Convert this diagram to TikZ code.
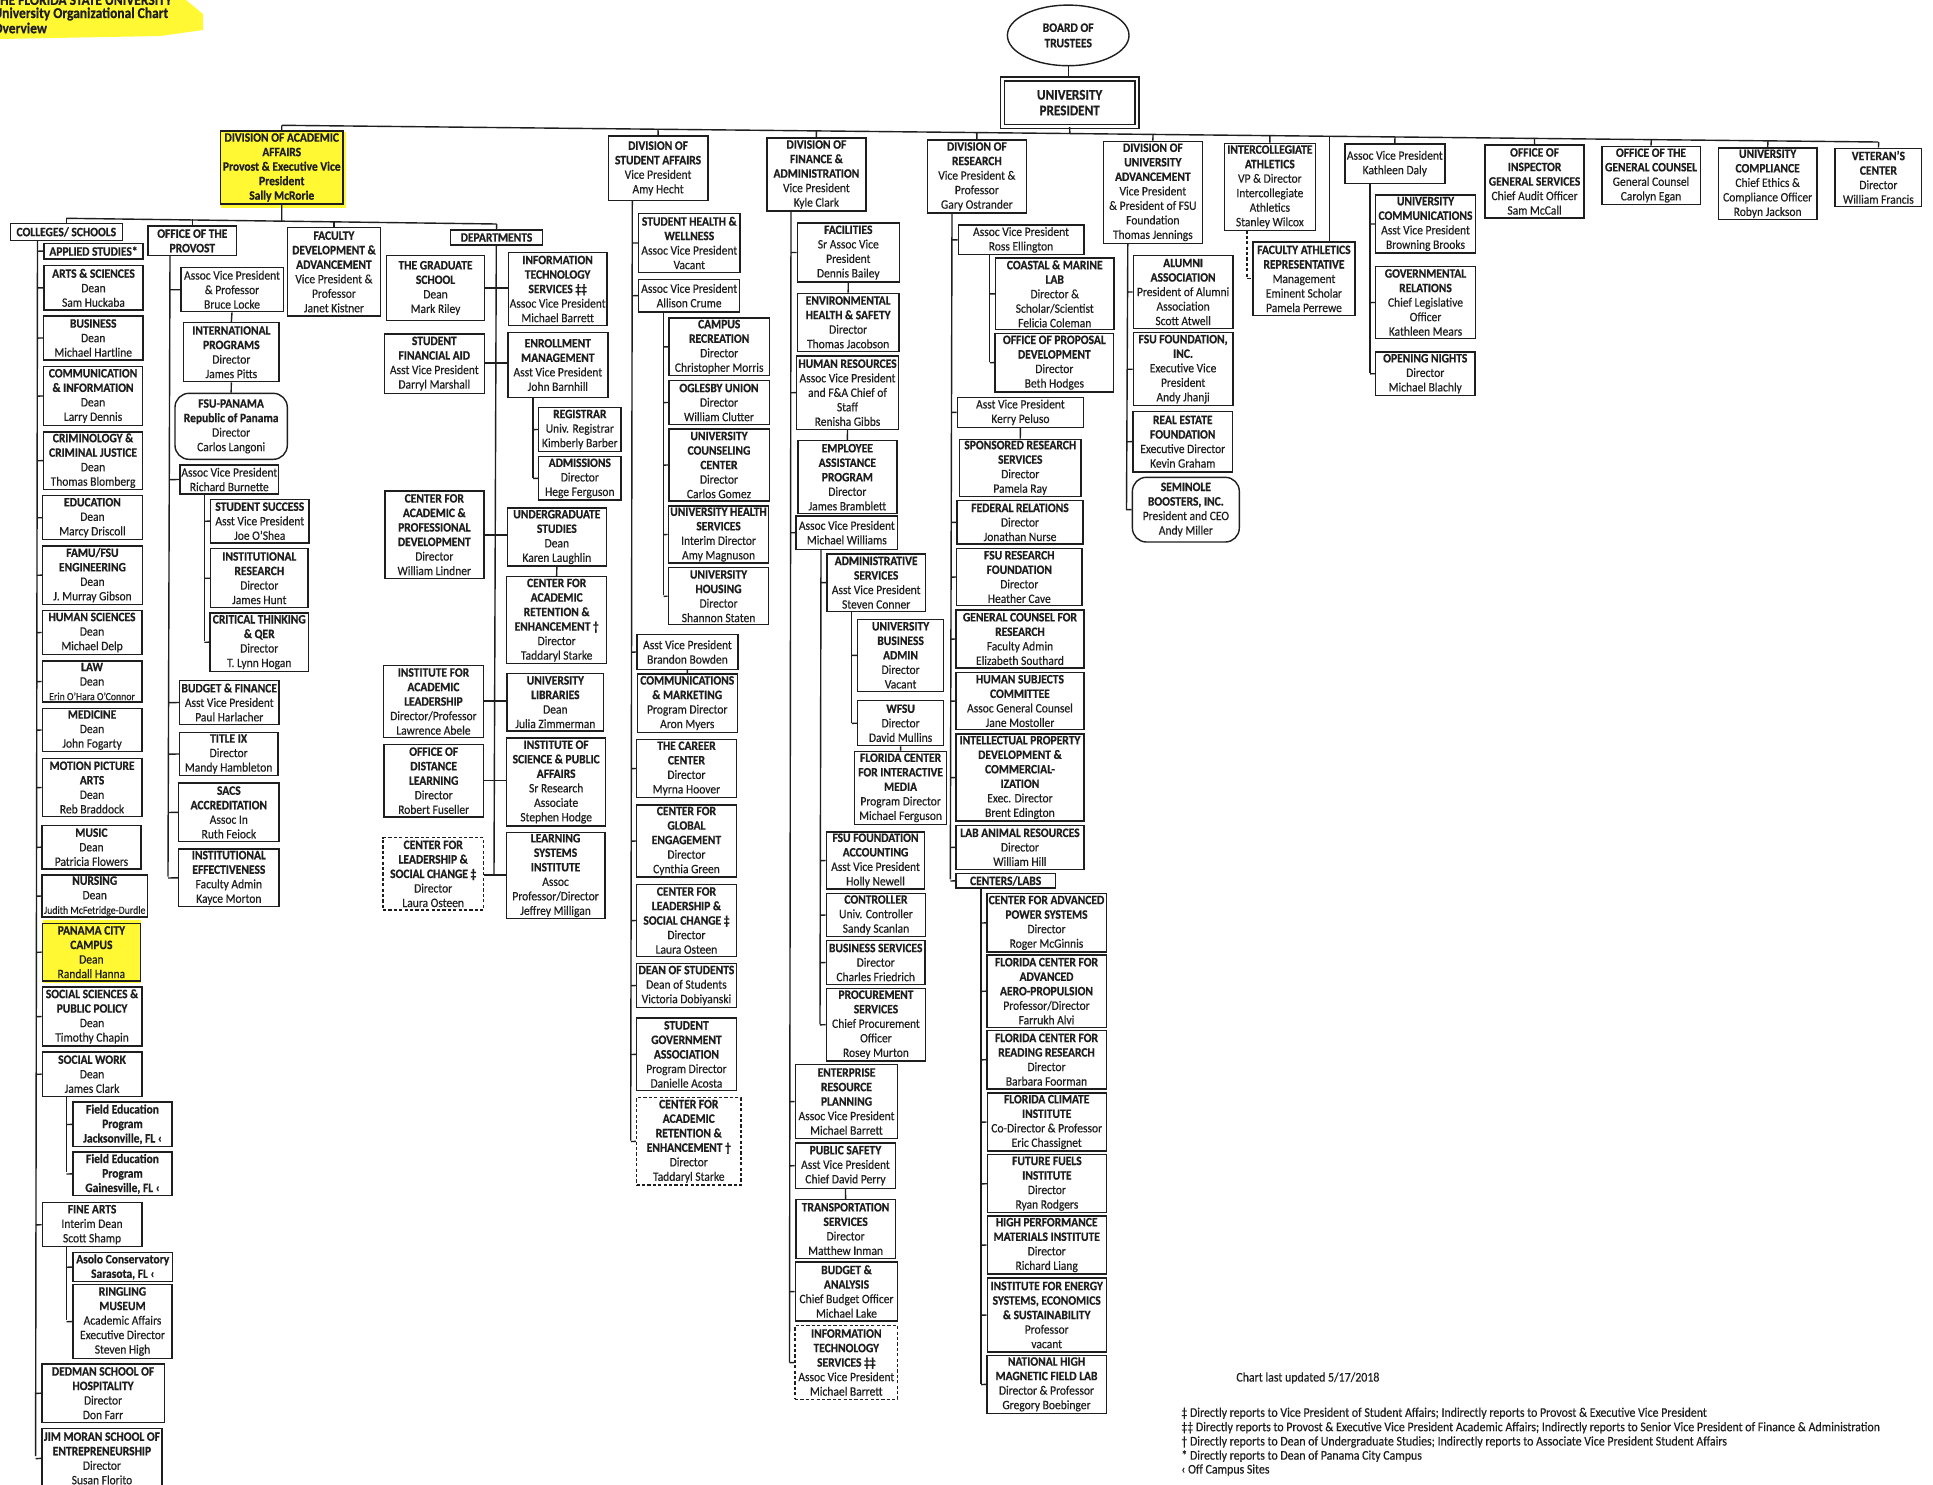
\documentclass[tikz,border=0pt]{standalone}
\usepackage{fontspec}
\setmainfont{Carlito}[FakeStretch=0.9,UprightFeatures={FakeBold=0.35},BoldFeatures={FakeBold=0.6}]
\usetikzlibrary{shapes.geometric}
\definecolor{ink}{HTML}{1E1E1E}
\definecolor{hi}{HTML}{FFF833}
\newcommand{\nrm}{\global\let\nrmoldnl\\\gdef\\{\nrmoldnl\mdseries}\mdseries}
\newcommand{\smalline}{\fontsize{5.45}{7.25}\selectfont}
\tikzset{
  x=0.5pt,y=-0.5pt,
  box/.style={draw=ink,line width=0.7pt,rectangle,inner sep=0pt,align=center,text=ink,font=\fontsize{6.4}{7.25}\selectfont\bfseries},
  plainbox/.style={box,font=\fontsize{6.4}{7.25}\selectfont},
  dashbox/.style={box,dashed,dash pattern=on 1.6pt off 1.1pt},
  roundbox/.style={box,rounded corners=7pt},
  wire/.style={draw=ink,line width=0.7pt},
  note/.style={inner sep=0pt,anchor=west,text=ink,font=\fontsize{6.6}{7.25}\selectfont},
  headnote/.style={note,font=\fontsize{7.5}{7.25}\selectfont\bfseries},
}
\newcommand{\B}[7][box]{\node[#1,minimum width={(#5-#3)*0.5pt},minimum height={(#6-#4)*0.5pt}] (#2) at ({(#3+#5)/2},{(#4+#6)/2}) {#7};}
% spine: from a to b, with stubs to the west side of listed boxes
\newcommand{\spine}[3]{\draw[wire] (#1) -- (#2);
  \foreach \q in {#3}{\draw[wire] (\q.west) -- (intersection cs:first line={(\q.west)--(\q.east)},second line={(#1)--(#2)});}}
\newcommand{\stem}[1]{\draw[wire] (#1.north) -- (intersection cs:first line={(#1.north)--(#1.south)},second line={(barL)--(barR)});}
\begin{document}
\begin{tikzpicture}
\useasboundingbox (0,0) rectangle (1933,1484);
\clip (0,0) rectangle (1933,1484);
\fill[white] (0,0) rectangle (1933,1484);
% highlights
\fill[hi] (0,0) -- (186,0) -- (203,14) -- (203,30) -- (160,36) -- (0,39) -- cycle;
\fill[hi] (221,132) rectangle (346,208);
\fill[hi] (43,920) rectangle (141,983);
\node[headnote] (h1) at (-7,0) {THE FLORIDA STATE UNIVERSITY};
\node[headnote] (h2) at (-7,14) {University Organizational Chart};
\node[headnote] (h3) at (-7,28) {Overview};

% top
\node[draw=ink,line width=0.7pt,ellipse,inner sep=0pt,minimum width=60.8pt,minimum height=30.3pt,align=center,text=ink,font=\fontsize{6.45}{7.7}\selectfont\bfseries] (bot) at (1068.2,35.4) {BOARD OF\\TRUSTEES};
\B[box,double=white,double distance=1.2pt,font=\fontsize{7.3}{7.85}\selectfont\bfseries]{pres}{1002.3}{79}{1137}{126.3}{UNIVERSITY\\PRESIDENT}
\draw[wire] (bot.south) -- (bot.south |- pres.north);
\coordinate (barL) at (282,125.3);
\coordinate (barR) at (1878,142);
\draw[wire] (barL) -- (barR);
\draw[wire] (pres.south) -- (intersection cs:first line={(pres.north)--(pres.south)},second line={(barL)--(barR)});

% academic affairs
\B{acad}{220.6}{131}{342.9}{204}{DIVISION OF ACADEMIC\\AFFAIRS\\Provost \& Executive Vice\\President\\Sally McRorie}
\stem{acad}
\coordinate (abL) at (66.3,218.3);
\coordinate (abR) at (496.7,224);
\draw[wire] (abL) -- (abR);
\draw[wire] (acad.south) -- (intersection cs:first line={(acad.north)--(acad.south)},second line={(abL)--(abR)});
\B{coll}{10.4}{223.3}{122.3}{240.7}{COLLEGES/ SCHOOLS}
\B{prov}{148}{226}{236.7}{255.7}{OFFICE OF THE\\PROVOST}
\B{fdev}{287.7}{227.7}{380.2}{316}{FACULTY\\DEVELOPMENT \&\\ADVANCEMENT\\\nrm Vice President \&\\Professor\\Janet Kistner}
\B{dept}{450.7}{230}{542.3}{245}{DEPARTMENTS}
\draw[wire] (abL) -- (abL |- coll.north);
\draw[wire] (prov.north) -- ++(0,-6);
\draw[wire] (fdev.north) -- ++(0,-6);
\draw[wire] (dept.north) -- (abR);

% colleges
\B{appl}{44}{243.3}{143}{259}{APPLIED STUDIES*}
\B{arts}{44}{265.7}{143}{310}{ARTS \& SCIENCES\\\nrm Dean\\Sam Huckaba}
\B{busi}{43.5}{316}{143}{360}{BUSINESS\\\nrm Dean\\Michael Hartline}
\B{comm}{43.5}{366.7}{142.6}{425.3}{COMMUNICATION\\\& INFORMATION\\\nrm Dean\\Larry Dennis}
\B{crim}{43.5}{432}{142.6}{489.3}{CRIMINOLOGY \&\\CRIMINAL JUSTICE\\\nrm Dean\\Thomas Blomberg}
\B{educ}{42.7}{495.7}{142.2}{539.7}{EDUCATION\\\nrm Dean\\Marcy Driscoll}
\B{famu}{42.7}{546}{142.2}{604.3}{FAMU/FSU\\ENGINEERING\\\nrm Dean\\J. Murray Gibson}
\B{hums}{42.3}{610.3}{141.8}{654.7}{HUMAN SCIENCES\\\nrm Dean\\Michael Delp}
\B{law}{42.3}{661}{141.8}{702}{LAW\\\nrm Dean\\\smalline Erin O'Hara O'Connor}
\B{medi}{42.3}{708.3}{141.8}{751.7}{MEDICINE\\\nrm Dean\\John Fogarty}
\B{moti}{42.3}{758.3}{141.8}{816.7}{MOTION PICTURE\\ARTS\\\nrm Dean\\Reb Braddock}
\B{musi}{41.9}{825.3}{141}{869}{MUSIC\\\nrm Dean\\Patricia Flowers}
\B{nurs}{41.9}{875}{147.6}{917}{NURSING\\\nrm Dean\\\smalline Judith McFetridge-Durdle}
\B{pana}{42.3}{923.3}{140.5}{981}{PANAMA CITY\\CAMPUS\\\nrm Dean\\Randall Hanna}
\B{socs}{42.3}{987}{141.8}{1046}{SOCIAL SCIENCES \&\\PUBLIC POLICY\\\nrm Dean\\Timothy Chapin}
\B{socw}{42.3}{1052}{141.8}{1096.3}{SOCIAL WORK\\\nrm Dean\\James Clark}
\B{fldj}{73}{1102}{172}{1146.7}{Field Education\\Program\\Jacksonville, FL ‹}
\B{fldg}{73}{1152}{172}{1195.7}{Field Education\\Program\\Gainesville, FL ‹}
\B{fine}{42.3}{1202.7}{141.8}{1246.7}{FINE ARTS\\\nrm Interim Dean\\Scott Shamp}
\B{asol}{73}{1252.3}{172.5}{1281.7}{Asolo Conservatory\\Sarasota, FL ‹}
\B{ring}{73}{1284.7}{172}{1358.3}{RINGLING\\MUSEUM\\\nrm Academic Affairs\\Executive Director\\Steven High}
\B{dedm}{41.9}{1364}{164.2}{1422.3}{DEDMAN SCHOOL OF\\HOSPITALITY\\\nrm Director\\Don Farr}
\B{jimm}{41.9}{1428.7}{162}{1488}{JIM MORAN SCHOOL OF\\ENTREPRENEURSHIP\\\nrm Director\\Susan Florito}
\coordinate (sc1) at (37.5,240.7);
\coordinate (sc2) at (35.6,1456);
\spine{sc1}{sc2}{appl,arts,busi,comm,crim,educ,famu,hums,law,medi,moti,musi,nurs,pana,socs,socw,fine,dedm,jimm}
\coordinate (sw1) at (66.5,1096.3);
\coordinate (sw2) at (66.5,1172);
\spine{sw1}{sw2}{fldj,fldg}
\coordinate (fa1) at (66.5,1246.7);
\coordinate (fa2) at (66.5,1320);
\spine{fa1}{fa2}{asol,ring}

% provost
\B[plainbox]{lock}{180.8}{267.7}{283.2}{311.7}{Assoc Vice President\\\& Professor\\Bruce Locke}
\B{intl}{183.7}{322.7}{279}{381.7}{INTERNATIONAL\\PROGRAMS\\\nrm Director\\James Pitts}
\B[roundbox]{pnma}{175}{393.3}{287.3}{459.3}{FSU-PANAMA\\Republic of Panama\\\nrm Director\\Carlos Langoni}
\B[plainbox]{burn}{180}{465}{278.6}{494}{Assoc Vice President\\Richard Burnette}
\B{succ}{210.6}{499.3}{308.9}{543}{STUDENT SUCCESS\\\nrm Asst Vice President\\Joe O'Shea}
\B{ires}{210.6}{548.7}{308}{607.7}{INSTITUTIONAL\\RESEARCH\\\nrm Director\\James Hunt}
\B{crit}{210}{613}{308.5}{671.3}{CRITICAL THINKING\\\& QER\\\nrm Director\\T. Lynn Hogan}
\B{budg}{179.5}{680.7}{279}{724.3}{BUDGET \& FINANCE\\\nrm Asst Vice President\\Paul Harlacher}
\B{titl}{179.5}{732.3}{277.8}{775.7}{TITLE IX\\\nrm Director\\Mandy Hambleton}
\B{sacs}{178.7}{783}{279}{841.7}{SACS\\ACCREDITATION\\\nrm Assoc In\\Ruth Feiock}
\B{ieff}{178.7}{849}{279}{906.7}{INSTITUTIONAL\\EFFECTIVENESS\\\nrm Faculty Admin\\Kayce Morton}
\coordinate (pv1) at (170,255.7);
\coordinate (pv2) at (168,876.7);
\spine{pv1}{pv2}{lock,burn,budg,titl,sacs,ieff}
\draw[wire] (lock.south) -- (intl.north);
\draw[wire] (intl.south) -- (pnma.north);
\coordinate (bn1) at (204.4,494);
\coordinate (bn2) at (204.4,640.7);
\spine{bn1}{bn2}{succ,ires,crit}

% departments
\B{grad}{386.4}{255.7}{484.7}{320.3}{THE GRADUATE\\SCHOOL\\\nrm Dean\\Mark Riley}
\B{itsv}{508.3}{252.7}{607}{325.3}{INFORMATION\\TECHNOLOGY\\SERVICES ‡‡\\\nrm Assoc Vice President\\Michael Barrett}
\B{said}{384.3}{334}{484.3}{393.3}{STUDENT\\FINANCIAL AID\\\nrm Asst Vice President\\Darryl Marshall}
\B{enrl}{507.9}{332.3}{607.8}{397.7}{ENROLLMENT\\MANAGEMENT\\\nrm Asst Vice President\\John Barnhill}
\B{regi}{538.6}{407.3}{621}{451.7}{REGISTRAR\\\nrm Univ. Registrar\\Kimberly Barber}
\B{admi}{538.6}{456.7}{621}{500}{ADMISSIONS\\\nrm Director\\Hege Ferguson}
\B{capd}{384.8}{491}{483.8}{578.3}{CENTER FOR\\ACADEMIC \&\\PROFESSIONAL\\DEVELOPMENT\\\nrm Director\\William Lindner}
\B{ugrd}{507.5}{508}{606.2}{566}{UNDERGRADUATE\\STUDIES\\\nrm Dean\\Karen Laughlin}
\B{care}{506.7}{576.7}{606.6}{663.7}{CENTER FOR\\ACADEMIC\\RETENTION \&\\ENHANCEMENT †\\\nrm Director\\Taddaryl Starke}
\B{iala}{383.5}{665.7}{483.4}{737.3}{INSTITUTE FOR\\ACADEMIC\\LEADERSHIP\\\nrm Director/Professor\\Lawrence Abele}
\B{libr}{507}{673.3}{603.7}{731}{UNIVERSITY\\LIBRARIES\\\nrm Dean\\Julia Zimmerman}
\B{dist}{384}{744.3}{483.4}{817}{OFFICE OF\\DISTANCE\\LEARNING\\\nrm Director\\Robert Fuseller}
\B{ispa}{506.6}{738}{605.7}{826}{INSTITUTE OF\\SCIENCE \& PUBLIC\\AFFAIRS\\\nrm Sr Research\\Associate\\Stephen Hodge}
\B[dashbox]{clsa}{383}{837.7}{483.4}{910}{CENTER FOR\\LEADERSHIP \&\\SOCIAL CHANGE ‡\\\nrm Director\\Laura Osteen}
\B{lsin}{506.2}{832.3}{604.9}{918.7}{LEARNING\\SYSTEMS\\INSTITUTE\\\nrm Assoc\\Professor/Director\\Jeffrey Milligan}
\coordinate (dp1) at (496.3,245);
\coordinate (dp2) at (494,875);
\draw[wire] (dp1) -- (dp2);
\draw[wire] (grad.east |- 0,288) -- (itsv.west |- 0,288);
\draw[wire] (said.east |- 0,363) -- (enrl.west |- 0,363);
\draw[wire] (capd.east |- 0,535) -- (ugrd.west |- 0,535);
\draw[wire] (iala.east |- 0,701) -- (libr.west |- 0,701);
\draw[wire] (dist.east |- 0,780.7) -- (ispa.west |- 0,780.7);
\draw[wire] (clsa.east |- 0,875) -- (lsin.west |- 0,875);
\draw[wire] (ugrd.south) -- (care.north);
\coordinate (en1) at (533,397.7);
\coordinate (en2) at (533,478.3);
\spine{en1}{en2}{regi,admi}

% student affairs
\B{stud}{608.3}{136}{707.8}{200.7}{DIVISION OF\\STUDENT AFFAIRS\\\nrm Vice President\\Amy Hecht}
\stem{stud}
\B{shlt}{638.6}{213.3}{740}{272.7}{STUDENT HEALTH \&\\WELLNESS\\\nrm Assoc Vice President\\Vacant}
\B[plainbox]{crum}{638.6}{279.3}{739.7}{312}{Assoc Vice President\\Allison Crume}
\B{crec}{668.8}{318}{769.6}{375.7}{CAMPUS\\RECREATION\\\nrm Director\\Christopher Morris}
\B{ogle}{668.8}{380.7}{769.2}{424.3}{OGLESBY UNION\\\nrm Director\\William Clutter}
\B{coun}{668.8}{429}{769.2}{501}{UNIVERSITY\\COUNSELING\\CENTER\\\nrm Director\\Carlos Gomez}
\B{uhsv}{668.4}{506}{768.7}{563}{UNIVERSITY HEALTH\\SERVICES\\\nrm Interim Director\\Amy Magnuson}
\B{hous}{668.4}{567.7}{768.7}{624.7}{UNIVERSITY\\HOUSING\\\nrm Director\\Shannon Staten}
\B[plainbox]{bowd}{636.9}{634.7}{738}{669.3}{Asst Vice President\\Brandon Bowden}
\B{cmmk}{637.3}{674}{737.2}{732.3}{COMMUNICATIONS\\\& MARKETING\\\nrm Program Director\\Aron Myers}
\B{carr}{636.5}{739.7}{736.4}{797.3}{THE CAREER\\CENTER\\\nrm Director\\Myrna Hoover}
\B{glob}{636.5}{805}{736.4}{877}{CENTER FOR\\GLOBAL\\ENGAGEMENT\\\nrm Director\\Cynthia Green}
\B{clsb}{636.5}{884.3}{736.4}{956.7}{CENTER FOR\\LEADERSHIP \&\\SOCIAL CHANGE ‡\\\nrm Director\\Laura Osteen}
\B{dosd}{636.5}{963.7}{736.4}{1007.3}{DEAN OF STUDENTS\\\nrm Dean of Students\\Victoria Dobiyanski}
\B{sgov}{636.5}{1018}{736.4}{1090.7}{STUDENT\\GOVERNMENT\\ASSOCIATION\\\nrm Program Director\\Danielle Acosta}
\B[dashbox]{carb}{636.5}{1097.7}{741}{1185}{CENTER FOR\\ACADEMIC\\RETENTION \&\\ENHANCEMENT †\\\nrm Director\\Taddaryl Starke}
\coordinate (sa1) at (632.3,200.7);
\coordinate (sa2) at (630.7,1140.7);
\spine{sa1}{sa2}{shlt,crum,bowd,carr,glob,clsb,dosd,sgov,carb}
\draw[wire] (bowd.south) -- (cmmk.north);
\coordinate (cr1) at (663.4,312);
\coordinate (cr2) at (663.4,595);
\spine{cr1}{cr2}{crec,ogle,coun,uhsv,hous}

% finance
\B{finc}{767}{138}{865.8}{211}{DIVISION OF\\FINANCE \&\\ADMINISTRATION\\\nrm Vice President\\Kyle Clark}
\stem{finc}
\B{faci}{797.3}{223}{899.3}{282}{FACILITIES\\\nrm Sr Assoc Vice\\President\\Dennis Bailey}
\B{envh}{797.3}{293.3}{899}{351.3}{ENVIRONMENTAL\\HEALTH \& SAFETY\\\nrm Director\\Thomas Jacobson}
\B{hres}{796.5}{356}{898.5}{429.3}{HUMAN RESOURCES\\\nrm Assoc Vice President\\and F\&A Chief of\\Staff\\Renisha Gibbs}
\B{eapr}{797.8}{440.7}{896.9}{513.7}{EMPLOYEE\\ASSISTANCE\\PROGRAM\\\nrm Director\\James Bramblett}
\B[plainbox]{will}{796}{516}{897.7}{549.3}{Assoc Vice President\\Michael Williams}
\B{adms}{826.8}{554}{925.5}{611.3}{ADMINISTRATIVE\\SERVICES\\\nrm Asst Vice President\\Steven Conner}
\B{ubad}{857.5}{619.3}{943.7}{691.3}{UNIVERSITY\\BUSINESS\\ADMIN\\\nrm Director\\Vacant}
\B{wfsu}{857.5}{700.7}{943.7}{745.7}{WFSU\\\nrm Director\\David Mullins}
\B{fcim}{854.6}{751.3}{946.6}{824.3}{FLORIDA CENTER\\FOR INTERACTIVE\\MEDIA\\\nrm Program Director\\Michael Ferguson}
\B{facc}{826.4}{832}{924.6}{889}{FSU FOUNDATION\\ACCOUNTING\\\nrm Asst Vice President\\Holly Newell}
\B{ctrl}{826.4}{893.3}{925.5}{936.7}{CONTROLLER\\\nrm Univ. Controller\\Sandy Scanlan}
\B{bsvc}{826.4}{940.7}{925}{984.3}{BUSINESS SERVICES\\\nrm Director\\Charles Friedrich}
\B{proc}{826.4}{988.3}{925.5}{1061}{PROCUREMENT\\SERVICES\\\nrm Chief Procurement\\Officer\\Rosey Murton}
\B{erpl}{795.3}{1064.7}{897.7}{1138.3}{ENTERPRISE\\RESOURCE\\PLANNING\\\nrm Assoc Vice President\\Michael Barrett}
\B{psaf}{795.3}{1143}{895.6}{1188.3}{PUBLIC SAFETY\\\nrm Asst Vice President\\Chief David Perry}
\B{trns}{796}{1199.7}{895.2}{1258.3}{TRANSPORTATION\\SERVICES\\\nrm Director\\Matthew Inman}
\B{bdgt}{795.3}{1262}{897.7}{1321}{BUDGET \&\\ANALYSIS\\\nrm Chief Budget Officer\\Michael Lake}
\B[dashbox]{itsd}{794.9}{1325.7}{897.7}{1399.3}{INFORMATION\\TECHNOLOGY\\SERVICES ‡‡\\\nrm Assoc Vice President\\Michael Barrett}
\coordinate (fn1) at (791,211);
\coordinate (fn2) at (789.5,1362.7);
\spine{fn1}{fn2}{faci,hres,will,erpl,psaf,bdgt,itsd}
\draw[wire] (faci.south) -- (envh.north);
\draw[wire] (hres.south) -- (eapr.north);
\draw[wire] (psaf.south) -- (trns.north);
\coordinate (wl1) at (821,549.3);
\coordinate (wl2) at (820,1024.3);
\spine{wl1}{wl2}{adms,facc,ctrl,bsvc,proc}
\coordinate (as1) at (851.7,611.3);
\coordinate (as2) at (851.7,722.7);
\spine{as1}{as2}{ubad,wfsu}
\draw[wire] (wfsu.south) -- (fcim.north);

% research
\B{rsch}{927.5}{140}{1026.2}{213}{DIVISION OF\\RESEARCH\\\nrm Vice President \&\\Professor\\Gary Ostrander}
\stem{rsch}
\B[plainbox]{elli}{958.2}{225}{1083.8}{254.7}{Assoc Vice President\\Ross Ellington}
\B{coas}{995.5}{258}{1114}{329.7}{COASTAL \& MARINE\\LAB\\\nrm Director \&\\Scholar/Scientist\\Felicia Coleman}
\B{prop}{995}{333.3}{1113.7}{392}{OFFICE OF PROPOSAL\\DEVELOPMENT\\\nrm Director\\Beth Hodges}
\B[plainbox]{pelu}{957.4}{397.3}{1083.4}{427.3}{Asst Vice President\\Kerry Peluso}
\B{spon}{959.5}{439.3}{1081}{496.3}{SPONSORED RESEARCH\\SERVICES\\\nrm Director\\Pamela Ray}
\B{fedr}{957}{500.7}{1083}{544}{FEDERAL RELATIONS\\\nrm Director\\Jonathan Nurse}
\B{frfd}{956.6}{548.3}{1082}{605.7}{FSU RESEARCH\\FOUNDATION\\\nrm Director\\Heather Cave}
\B{gcrs}{956.1}{610}{1083.8}{668}{GENERAL COUNSEL FOR\\RESEARCH\\\nrm Faculty Admin\\Elizabeth Southard}
\B{hsub}{956.1}{672.7}{1083.8}{729.3}{HUMAN SUBJECTS\\COMMITTEE\\\nrm Assoc General Counsel\\Jane Mostoller}
\B{ipdc}{956.1}{734}{1083.8}{821}{INTELLECTUAL PROPERTY\\DEVELOPMENT \&\\COMMERCIAL-\\IZATION\\\nrm Exec. Director\\Brent Edington}
\B{labr}{956.1}{825.3}{1083.8}{869.3}{LAB ANIMAL RESOURCES\\\nrm Director\\William Hill}
\B{cntr}{956.1}{873.7}{1055.2}{888}{CENTERS/LABS}
\B{caps}{986.8}{893.7}{1106.2}{952}{CENTER FOR ADVANCED\\POWER SYSTEMS\\\nrm Director\\Roger McGinnis}
\B{fcaa}{986.8}{955}{1106.2}{1027.3}{FLORIDA CENTER FOR\\ADVANCED\\AERO-PROPULSION\\\nrm Professor/Director\\Farrukh Alvi}
\B{fcrr}{986.8}{1030.3}{1106.2}{1089}{FLORIDA CENTER FOR\\READING RESEARCH\\\nrm Director\\Barbara Foorman}
\B{fcli}{987.2}{1093}{1106.2}{1151}{FLORIDA CLIMATE\\INSTITUTE\\\nrm Co-Director \& Professor\\Eric Chassignet}
\B{ffue}{987.6}{1154.7}{1106.2}{1212.7}{FUTURE FUELS\\INSTITUTE\\\nrm Director\\Ryan Rodgers}
\B{hpmi}{987.2}{1216}{1106.2}{1274}{HIGH PERFORMANCE\\MATERIALS INSTITUTE\\\nrm Director\\Richard Liang}
\B{iese}{987.2}{1278}{1106.2}{1352}{INSTITUTE FOR ENERGY\\SYSTEMS, ECONOMICS\\\& SUSTAINABILITY\\\nrm Professor\\vacant}
\B{nhmf}{986.8}{1355.3}{1106.2}{1413.3}{NATIONAL HIGH\\MAGNETIC FIELD LAB\\\nrm Director \& Professor\\Gregory Boebinger}
\coordinate (rs1) at (952,213);
\coordinate (rs2) at (950.3,879.3);
\spine{rs1}{rs2}{elli,pelu,fedr,frfd,gcrs,hsub,ipdc,labr,cntr}
\draw[wire] (pelu.south) -- (spon.north);
\coordinate (el1) at (989.7,254.7);
\coordinate (el2) at (989.7,361.7);
\spine{el1}{el2}{coas,prop}
\coordinate (cl1) at (981,888);
\coordinate (cl2) at (981,1384.3);
\spine{cl1}{cl2}{caps,fcaa,fcrr,fcli,ffue,hpmi,iese,nhmf}

% advancement
\B{advn}{1103.3}{141.3}{1202.4}{243.3}{DIVISION OF\\UNIVERSITY\\ADVANCEMENT\\\nrm Vice President\\\& President of FSU\\Foundation\\Thomas Jennings}
\stem{advn}
\B{alum}{1133.2}{255.7}{1233}{328.3}{ALUMNI\\ASSOCIATION\\\nrm President of Alumni\\Association\\Scott Atwell}
\B{fsuf}{1133.2}{332.7}{1233}{405.7}{FSU FOUNDATION,\\INC.\\\nrm Executive Vice\\President\\Andy Jhanji}
\B{refn}{1132.8}{411.3}{1232.7}{472}{REAL ESTATE\\FOUNDATION\\\nrm Executive Director\\Kevin Graham}
\B[roundbox]{semi}{1132.4}{477.3}{1239.3}{542}{SEMINOLE\\BOOSTERS, INC.\\\nrm President and CEO\\Andy Miller}
\coordinate (ad1) at (1127.8,243.3);
\coordinate (ad2) at (1126.5,510);
\spine{ad1}{ad2}{alum,fsuf,refn,semi}

% athletics
\B{athl}{1224.4}{143.2}{1315.3}{230.4}{INTERCOLLEGIATE\\ATHLETICS\\\nrm VP \& Director\\Intercollegiate\\Athletics\\Stanley Wilcox}
\stem{athl}
\B{fath}{1252.9}{242}{1355}{315.7}{FACULTY ATHLETICS\\REPRESENTATIVE\\\nrm Management\\Eminent Scholar\\Pamela Perrewe}
\coordinate (fa3) at (1247,230.4);
\coordinate (fa4) at (1247,278.6);
\draw[wire,dashed,dash pattern=on 1.6pt off 1.1pt] (fa3) -- (fa4) -- (fath.west |- fa4);
\coordinate (fa5) at (1329.2,136.5);
\draw[wire] (fa5) -- (fa5 |- fath.north);

% daly
\B[plainbox]{daly}{1344.8}{143.9}{1444.8}{183.2}{Assoc Vice President\\Kathleen Daly}
\stem{daly}
\B{ucom}{1375.5}{195}{1475.5}{252.9}{UNIVERSITY\\COMMUNICATIONS\\\nrm Asst Vice President\\Browning Brooks}
\B{govr}{1375.5}{266.4}{1475.5}{338.6}{GOVERNMENTAL\\RELATIONS\\\nrm Chief Legislative\\Officer\\Kathleen Mears}
\B{open}{1375.5}{351.8}{1475}{395.7}{OPENING NIGHTS\\\nrm Director\\Michael Blachly}
\coordinate (da1) at (1370,183.2);
\coordinate (da2) at (1370,372.5);
\spine{da1}{da2}{ucom,govr,open}

% right-hand offices
\B{insp}{1485.1}{145}{1584}{217.9}{OFFICE OF\\INSPECTOR\\GENERAL SERVICES\\\nrm Chief Audit Officer\\Sam McCall}
\stem{insp}
\B{gcns}{1601.8}{146.4}{1700.2}{204.6}{OFFICE OF THE\\GENERAL COUNSEL\\\nrm General Counsel\\Carolyn Egan}
\stem{gcns}
\B{cmpl}{1718.5}{147.9}{1816.8}{219.6}{UNIVERSITY\\COMPLIANCE\\\nrm Chief Ethics \&\\Compliance Officer\\Robyn Jackson}
\stem{cmpl}
\B{vetc}{1835.1}{148.2}{1921.7}{206.4}{VETERAN'S\\CENTER\\\nrm Director\\William Francis}
\stem{vetc}

% notes
\node[note] (upd) at (1236,1378) {Chart last updated 5/17/2018};
\node[note] (n1) at (1181,1413.3) {‡ Directly reports to Vice President of Student Affairs; Indirectly reports to Provost \& Executive Vice President};
\node[note] (n2) at (1181,1427.7) {‡‡ Directly reports to Provost \& Executive Vice President Academic Affairs; Indirectly reports to Senior Vice President of Finance \& Administration};
\node[note] (n3) at (1181,1442) {† Directly reports to Dean of Undergraduate Studies; Indirectly reports to Associate Vice President Student Affairs};
\node[note] (n4) at (1181,1456) {* Directly reports to Dean of Panama City Campus};
\node[note] (n5) at (1181,1470) {‹ Off Campus Sites};
\end{tikzpicture}
\end{document}
